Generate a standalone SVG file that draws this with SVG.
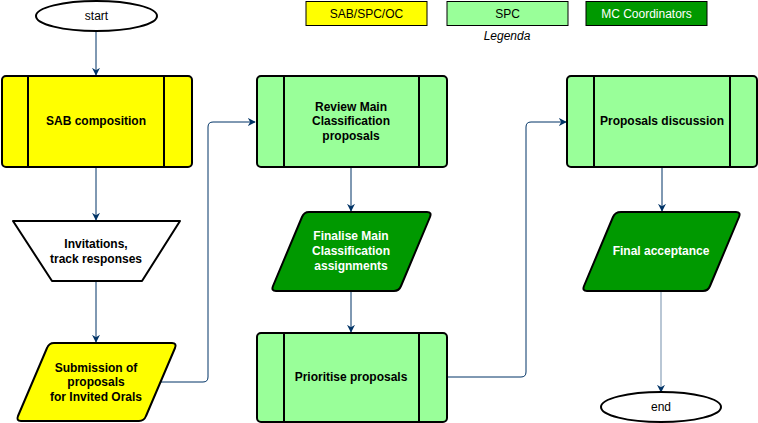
<svg xmlns="http://www.w3.org/2000/svg" width="758" height="423" viewBox="0 0 758 423">
<defs>
<style>
.n{stroke:#000;stroke-width:2;stroke-linejoin:round}
.y{fill:#ffff00}
.g{fill:#99ff99}
.d{fill:#009900}
.w{fill:#fff}
.t{font-family:"Liberation Sans",Arial,sans-serif;font-size:12px;text-anchor:middle;fill:#000}
.b{font-weight:bold}
.wt{fill:#fff}
.c{fill:none;stroke:#003366;stroke-width:1}
.lg{stroke:#000;stroke-width:1}
</style>
<marker id="ar" viewBox="0 0 10 10" refX="9" refY="5" markerWidth="8" markerHeight="8" markerUnits="userSpaceOnUse" orient="auto">
<path d="M0,0 L10,5 L0,10 L3,5 Z" fill="#003366"/>
</marker>
</defs>
<g id="legend">
<rect class="lg y" x="306" y="1.5" width="121" height="24"/>
<text class="t" x="366.5" y="18">SAB/SPC/OC</text>
<rect class="lg g" x="447" y="1.5" width="121" height="24"/>
<text class="t" x="507.5" y="18">SPC</text>
<rect class="lg d" x="586" y="1.5" width="121" height="24"/>
<text class="t wt" x="646.5" y="18">MC Coordinators</text>
<text class="t" x="507" y="40" font-style="italic">Legenda</text>
</g>
<g id="connectors">
<path class="c" d="M96,31 V75" marker-end="url(#ar)"/>
<path class="c" d="M96,167 V220" marker-end="url(#ar)"/>
<path class="c" d="M96,281 V342" marker-end="url(#ar)"/>
<path class="c" d="M160,382 H203 Q208,382 208,377 V127 Q208,122 213,122 H255" marker-end="url(#ar)"/>
<path class="c" d="M351,167 V211" marker-end="url(#ar)"/>
<path class="c" d="M351,291 V332" marker-end="url(#ar)"/>
<path class="c" d="M447,377 H521 Q526,377 526,372 V127 Q526,122 531,122 H566" marker-end="url(#ar)"/>
<path class="c" d="M662,167 V211" marker-end="url(#ar)"/>
<path class="c" d="M661,291 V392" stroke-opacity="0.55" stroke-width="1.5" marker-end="url(#ar)"/>
</g>
<g id="start">
<ellipse class="w" cx="96.5" cy="16" rx="60.5" ry="15" stroke="#000" stroke-width="2"/>
<text class="t" x="96.5" y="20">start</text>
</g>
<g id="sab">
<rect class="n y" x="2" y="76" width="190" height="91" rx="4"/>
<path class="n" d="M28,76 V167 M164,76 V167" fill="none"/>
<text class="t b" x="96" y="125">SAB composition</text>
</g>
<g id="invitations">
<path class="n w" d="M13,221 H180 L142,281 H52 Z"/>
<text class="t b" x="96" y="248">Invitations,</text>
<text class="t b" x="96" y="263">track responses</text>
</g>
<g id="submission">
<path class="n y" d="M54,343 H172 Q177,343 175,348 L146,416 Q144,421 139,421 H21 Q16,421 18,416 L47,348 Q49,343 54,343 Z"/>
<text class="t b" x="96" y="372">Submission of</text>
<text class="t b" x="96" y="386">proposals</text>
<text class="t b" x="96" y="401">for Invited Orals</text>
</g>
<g id="review">
<rect class="n g" x="257" y="76" width="190" height="91" rx="4"/>
<path class="n" d="M284,76 V167 M419,76 V167" fill="none"/>
<text class="t b" x="351" y="111">Review Main</text>
<text class="t b" x="351" y="125">Classification</text>
<text class="t b" x="351" y="140">proposals</text>
</g>
<g id="finalise">
<path class="n d" d="M309,212 H427 Q432,212 430,217 L401,286 Q399,291 394,291 H276 Q271,291 273,286 L302,217 Q304,212 309,212 Z"/>
<text class="t b wt" x="351" y="240">Finalise Main</text>
<text class="t b wt" x="351" y="255">Classification</text>
<text class="t b wt" x="351" y="270">assignments</text>
</g>
<g id="prioritise">
<rect class="n g" x="257" y="333" width="190" height="89" rx="4"/>
<path class="n" d="M284,333 V422 M419,333 V422" fill="none"/>
<text class="t b" x="351" y="381">Prioritise proposals</text>
</g>
<g id="discussion">
<rect class="n g" x="567" y="76" width="190" height="91" rx="4"/>
<path class="n" d="M594,76 V167 M730,76 V167" fill="none"/>
<text class="t b" x="662" y="125">Proposals discussion</text>
</g>
<g id="acceptance">
<path class="n d" d="M621,212 H736 Q741,212 739,217 L710,286 Q708,291 703,291 H587 Q582,291 584,286 L613,217 Q615,212 621,212 Z"/>
<text class="t b wt" x="661" y="255">Final acceptance</text>
</g>
<g id="end">
<ellipse class="w" cx="661" cy="407" rx="60" ry="15" stroke="#000" stroke-width="2"/>
<text class="t" x="661" y="411">end</text>
</g>
</svg>
